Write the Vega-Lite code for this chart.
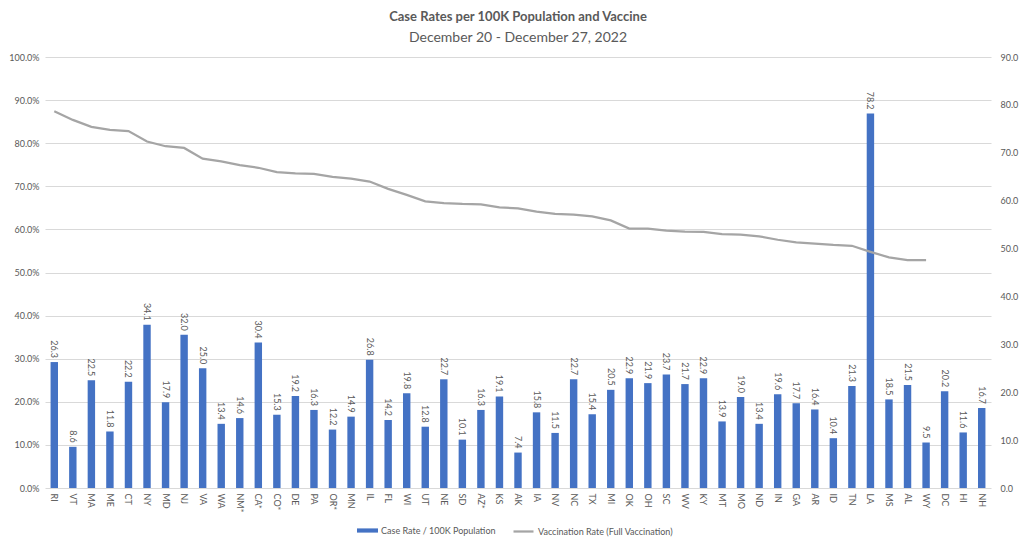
{
  "$schema": "https://vega.github.io/schema/vega-lite/v6.json",
  "autosize": "none",
  "width": 946,
  "height": 431,
  "padding": {"left": 45, "top": 57, "right": 33, "bottom": 54},
  "background": "white",
  "title": {
    "text": "Case Rates per 100K Population and Vaccine",
    "subtitle": "December 20 - December 27, 2022",
    "anchor": "middle",
    "font": "Lato",
    "fontSize": 13,
    "fontWeight": "bold",
    "color": "#595959",
    "subtitleFont": "Lato",
    "subtitleFontSize": 14,
    "subtitleColor": "#595959",
    "subtitlePadding": 7,
    "offset": 8
  },
  "config": {
    "font": "Lato",
    "view": {"stroke": null},
    "axis": {"labelFont": "Lato", "labelColor": "#595959", "labelFontSize": 9, "domain": false, "ticks": false, "title": null, "labelOverlap": false},
    "legend": {"labelFont": "Lato", "labelFontSize": 9, "labelColor": "#595959", "padding": 0}
  },
  "data": {
    "values": [
      {"state": "RI", "case": 26.3, "vacc": 0.874},
      {"state": "VT", "case": 8.6, "vacc": 0.854},
      {"state": "MA", "case": 22.5, "vacc": 0.838},
      {"state": "ME", "case": 11.8, "vacc": 0.831},
      {"state": "CT", "case": 22.2, "vacc": 0.828},
      {"state": "NY", "case": 34.1, "vacc": 0.804},
      {"state": "MD", "case": 17.9, "vacc": 0.793},
      {"state": "NJ", "case": 32.0, "vacc": 0.789},
      {"state": "VA", "case": 25.0, "vacc": 0.764},
      {"state": "WA", "case": 13.4, "vacc": 0.758},
      {"state": "NM*", "case": 14.6, "vacc": 0.749},
      {"state": "CA*", "case": 30.4, "vacc": 0.743},
      {"state": "CO*", "case": 15.3, "vacc": 0.733},
      {"state": "DE", "case": 19.2, "vacc": 0.730},
      {"state": "PA", "case": 16.3, "vacc": 0.729},
      {"state": "OR*", "case": 12.2, "vacc": 0.722},
      {"state": "MN", "case": 14.9, "vacc": 0.718},
      {"state": "IL", "case": 26.8, "vacc": 0.711},
      {"state": "FL", "case": 14.2, "vacc": 0.694},
      {"state": "WI", "case": 19.8, "vacc": 0.680},
      {"state": "UT", "case": 12.8, "vacc": 0.665},
      {"state": "NE", "case": 22.7, "vacc": 0.661},
      {"state": "SD", "case": 10.1, "vacc": 0.659},
      {"state": "AZ*", "case": 16.3, "vacc": 0.658},
      {"state": "KS", "case": 19.1, "vacc": 0.651},
      {"state": "AK", "case": 7.4, "vacc": 0.649},
      {"state": "IA", "case": 15.8, "vacc": 0.641},
      {"state": "NV", "case": 11.5, "vacc": 0.636},
      {"state": "NC", "case": 22.7, "vacc": 0.634},
      {"state": "TX", "case": 15.4, "vacc": 0.630},
      {"state": "MI", "case": 20.5, "vacc": 0.621},
      {"state": "OK", "case": 22.9, "vacc": 0.602},
      {"state": "OH", "case": 21.9, "vacc": 0.602},
      {"state": "SC", "case": 23.7, "vacc": 0.597},
      {"state": "WV", "case": 21.7, "vacc": 0.595},
      {"state": "KY", "case": 22.9, "vacc": 0.594},
      {"state": "MT", "case": 13.9, "vacc": 0.589},
      {"state": "MO", "case": 19.0, "vacc": 0.588},
      {"state": "ND", "case": 13.4, "vacc": 0.584},
      {"state": "IN", "case": 19.6, "vacc": 0.576},
      {"state": "GA", "case": 17.7, "vacc": 0.570},
      {"state": "AR", "case": 16.4, "vacc": 0.567},
      {"state": "ID", "case": 10.4, "vacc": 0.564},
      {"state": "TN", "case": 21.3, "vacc": 0.562},
      {"state": "LA", "case": 78.2, "vacc": 0.548},
      {"state": "MS", "case": 18.5, "vacc": 0.535},
      {"state": "AL", "case": 21.5, "vacc": 0.529},
      {"state": "WY", "case": 9.5, "vacc": 0.529},
      {"state": "DC", "case": 20.2, "vacc": null},
      {"state": "HI", "case": 11.6, "vacc": null},
      {"state": "NH", "case": 16.7, "vacc": null}
    ]
  },
  "encoding": {
    "x": {
      "field": "state",
      "type": "nominal",
      "sort": null,
      "scale": {"paddingInner": 0.6, "paddingOuter": 0.3},
      "axis": {"labelAngle": 90, "labelPadding": 5, "grid": false}
    }
  },
  "layer": [
    {
      "mark": {"type": "bar", "color": "#4472C4"},
      "encoding": {
        "y": {
          "field": "case",
          "type": "quantitative",
          "scale": {"domain": [0, 90], "nice": false},
          "axis": {"orient": "right", "format": ".1f", "values": [0,10,20,30,40,50,60,70,80,90], "grid": false, "labelPadding": 9}
        },
        "color": {
          "datum": "Case Rate / 100K Population",
          "scale": {"range": ["#4472C4"]},
          "legend": {"title": null, "orient": "none", "legendX": 312, "legendY": 463, "symbolType": "M-1,-0.2H1V0.2H-1Z", "symbolSize": 441, "labelOffset": 3, "symbolStrokeWidth": 0}
        }
      }
    },
    {
      "mark": {"type": "text", "angle": 90, "align": "right", "baseline": "middle", "dx": -4, "fontSize": 9, "color": "#595959", "font": "Lato"},
      "encoding": {
        "y": {"field": "case", "type": "quantitative", "scale": {"domain": [0, 90], "nice": false}, "axis": null},
        "text": {"field": "case", "type": "quantitative", "format": ".1f"}
      }
    },
    {
      "mark": {"type": "line", "strokeWidth": 2.25, "interpolate": "linear"},
      "encoding": {
        "y": {
          "field": "vacc",
          "type": "quantitative",
          "scale": {"domain": [0, 1], "nice": false},
          "axis": {"orient": "left", "format": ".1%", "values": [0,0.1,0.2,0.3,0.4,0.5,0.6,0.7,0.8,0.9,1.0], "grid": true, "gridColor": "#d9d9d9", "gridWidth": 1, "labelPadding": 6}
        },
        "stroke": {
          "datum": "Vaccination Rate (Full Vaccination)",
          "scale": {"range": ["#A5A5A5"]},
          "legend": {"title": null, "orient": "none", "legendX": 467, "legendY": 463, "symbolType": "stroke", "symbolSize": 400, "symbolStrokeWidth": 2.25, "labelOffset": 3}
        }
      }
    }
  ],
  "resolve": {"scale": {"y": "independent"}}
}
